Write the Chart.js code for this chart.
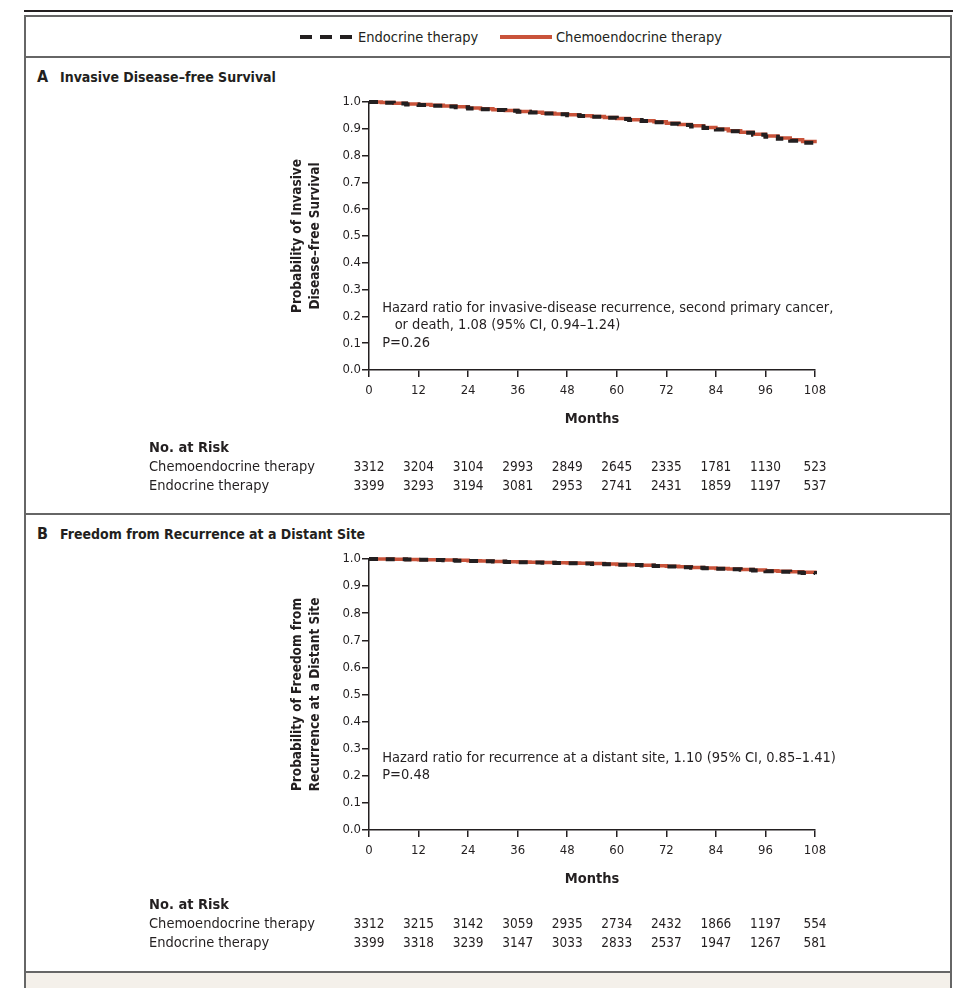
<!DOCTYPE html>
<html lang="en">
<head>
<meta charset="UTF-8">
<title>Invasive Disease-free Survival and Freedom from Distant Recurrence</title>
<style>
  body { margin: 0; background: #fff; color: #231f20;
         font-family: "Liberation Sans Narrow", "DejaVu Sans Condensed", "Liberation Sans", sans-serif; }
  #page { position: relative; width: 980px; height: 988px; overflow: hidden; }
  .abs { position: absolute; }
  .topline { left: 24px; top: 10px; width: 929px; height: 2px; background: #231f20; }
  .frame { left: 24px; top: 15px; width: 928px; height: 1000px; box-sizing: border-box; border: 2px solid #666; }
  .sep { left: 26px; width: 924px; height: 2px; background: #666; }
  .beige { left: 26px; top: 973px; width: 924px; height: 20px; background: #f4f0ea; }
  .legend { top: 26px; height: 22px; font-size: 14.5px; line-height: 22px; white-space: nowrap; }
  .swatch { position: absolute; top: 9px; height: 4px; }
  .ptitle { left: 37px; font-weight: bold; font-size: 14px; line-height: 20px; white-space: nowrap; }
  .ptitle span { display: inline-block; width: 23px; font-size: 16px; }
  canvas { position: absolute; }
</style>
</head>
<body>
<div id="page">
  <div class="abs topline"></div>
  <div class="abs frame"></div>
  <div class="abs sep" style="top:56px"></div>
  <div class="abs sep" style="top:513px"></div>
  <div class="abs sep" style="top:971px"></div>
  <div class="abs beige"></div>

  <div class="abs swatch" id="swEndo" style="left:300px;top:35px;width:52px;
       background:repeating-linear-gradient(90deg,#231f20 0 12px,transparent 12px 20px)"></div>
  <div class="abs legend" id="lgEndo" style="left:358px"></div>
  <div class="abs swatch" id="swChemo" style="left:500px;top:35px;width:52px;background:#c9533a"></div>
  <div class="abs legend" id="lgChemo" style="left:556px"></div>

  <div class="abs ptitle" style="top:67px"><span>A</span>Invasive Disease–free Survival</div>
  <canvas id="chartA" width="924" height="418" style="left:26px;top:88px"></canvas>

  <div class="abs ptitle" style="top:524px"><span>B</span>Freedom from Recurrence at a Distant Site</div>
  <canvas id="chartB" width="924" height="418" style="left:26px;top:545px"></canvas>
</div>

<script src="https://cdn.jsdelivr.net/npm/chart.js@4.4.1/dist/chart.umd.min.js"></script>
<script>
  const FONT = '"Liberation Sans Narrow", "DejaVu Sans Condensed", "Liberation Sans", sans-serif';
  const INK = '#231f20';
  const RED = '#c9533a';

  const seriesNames = ['Endocrine therapy', 'Chemoendocrine therapy'];

  const months = [0, 3, 6, 9, 12, 15, 18, 21, 24, 27, 30, 33, 36, 39, 42, 45, 48, 51, 54,
                  57, 60, 63, 66, 69, 72, 75, 78, 81, 84, 87, 90, 93, 96, 99, 102, 105, 108];

  // panel A - invasive disease-free survival
  const endoA = [1.000, 0.997, 0.994, 0.991, 0.989, 0.986, 0.983, 0.980, 0.976, 0.973, 0.970, 0.967,
                 0.964, 0.961, 0.957, 0.954, 0.951, 0.948, 0.945, 0.941, 0.937, 0.933, 0.929, 0.924,
                 0.919, 0.914, 0.909, 0.903, 0.897, 0.891, 0.885, 0.878, 0.870, 0.863, 0.855, 0.848, 0.840];
  const chemoA = [1.000, 0.998, 0.995, 0.993, 0.991, 0.988, 0.985, 0.982, 0.978, 0.975, 0.971, 0.968,
                  0.965, 0.962, 0.958, 0.955, 0.952, 0.949, 0.946, 0.942, 0.938, 0.934, 0.930, 0.926,
                  0.921, 0.916, 0.911, 0.905, 0.899, 0.893, 0.887, 0.880, 0.873, 0.866, 0.859, 0.853, 0.846];

  // panel B - freedom from recurrence at a distant site
  const endoB = [1.000, 0.999, 0.999, 0.998, 0.997, 0.996, 0.995, 0.994, 0.993, 0.992, 0.991, 0.989,
                 0.988, 0.987, 0.986, 0.985, 0.984, 0.983, 0.982, 0.981, 0.979, 0.978, 0.976, 0.974,
                 0.972, 0.970, 0.968, 0.966, 0.964, 0.962, 0.960, 0.958, 0.955, 0.953, 0.950, 0.948, 0.944];
  const chemoB = [1.000, 1.000, 0.999, 0.998, 0.997, 0.997, 0.996, 0.995, 0.994, 0.993, 0.991, 0.990,
                  0.989, 0.988, 0.987, 0.986, 0.985, 0.984, 0.983, 0.982, 0.980, 0.979, 0.977, 0.975,
                  0.973, 0.971, 0.969, 0.967, 0.965, 0.963, 0.961, 0.959, 0.957, 0.955, 0.953, 0.951, 0.948];

  // no. at risk
  const riskMonths = [0, 12, 24, 36, 48, 60, 72, 84, 96, 108];
  const riskChemoA = [3312, 3204, 3104, 2993, 2849, 2645, 2335, 1781, 1130, 523];
  const riskEndoA  = [3399, 3293, 3194, 3081, 2953, 2741, 2431, 1859, 1197, 537];
  const riskChemoB = [3312, 3215, 3142, 3059, 2935, 2734, 2432, 1866, 1197, 554];
  const riskEndoB  = [3399, 3318, 3239, 3147, 3033, 2833, 2537, 1947, 1267, 581];

  const yTitleA = ['Probability of Invasive', 'Disease–free Survival'];
  const yTitleB = ['Probability of Freedom from', 'Recurrence at a Distant Site'];
  const noteA = ['Hazard ratio for invasive-disease recurrence, second primary cancer,',
                 '   or death, 1.08 (95% CI, 0.94–1.24)', 'P=0.26'];
  const noteB = ['Hazard ratio for recurrence at a distant site, 1.10 (95% CI, 0.85–1.41)', 'P=0.48'];

  document.getElementById('lgEndo').textContent = seriesNames[0];
  document.getElementById('lgChemo').textContent = seriesNames[1];

  Chart.defaults.font.family = FONT;
  Chart.defaults.color = INK;

  // draws the hazard-ratio note and the number-at-risk table
  const extras = {
    id: 'extras',
    afterDraw(chart, args, o) {
      const ctx = chart.ctx, xs = chart.scales.x, ys = chart.scales.y;
      ctx.save();
      ctx.fillStyle = INK;
      ctx.textBaseline = 'middle';
      ctx.font = '14.5px ' + FONT;
      ctx.textAlign = 'left';
      const nx = xs.getPixelForValue(o.noteAt[0]);
      const ny = ys.getPixelForValue(o.noteAt[1]);
      o.note.forEach((line, i) => ctx.fillText(line, nx, ny + i * o.noteGap));

      ctx.font = 'bold 14.5px ' + FONT;
      ctx.fillText('No. at Risk', o.tableX, o.tableY);
      o.rows.forEach((row, r) => {
        const y = o.tableY + (r + 1) * o.rowGap;
        ctx.font = '14.5px ' + FONT;
        ctx.textAlign = 'left';
        ctx.fillText(row[0], o.tableX, y);
        ctx.font = '13.5px ' + FONT;
        ctx.textAlign = 'center';
        row[1].forEach((n, i) => ctx.fillText(String(n), xs.getPixelForValue(riskMonths[i]), y));
      });
      ctx.restore();
    }
  };

  function kmChart(id, endo, chemo, yTitle, note, noteAt, rows, bottomPad) {
    const axisLine = { display: true, color: INK, width: 1.5 };
    const gridTicks = { drawOnChartArea: false, drawTicks: true, tickLength: 7, color: INK, lineWidth: 1.5 };
    return new Chart(document.getElementById(id), {
      type: 'line',
      data: {
        datasets: [
          { label: seriesNames[0], data: months.map((m, i) => ({ x: m, y: endo[i] })),
            borderColor: INK, borderWidth: 4, borderDash: [9, 8], stepped: true, pointRadius: 0, clip: 6 },
          { label: seriesNames[1], data: months.map((m, i) => ({ x: m, y: chemo[i] })),
            borderColor: RED, borderWidth: 3.5, stepped: true, pointRadius: 0, clip: 6 }
        ]
      },
      options: {
        responsive: false,
        animation: false,
        devicePixelRatio: 1,
        layout: { padding: { left: 0, right: 135, top: 14, bottom: bottomPad } },
        plugins: {
          legend: { display: false },
          tooltip: { enabled: false },
          extras: { note: note, noteAt: noteAt, noteGap: 17.5, tableX: 123, tableY: 360, rowGap: 19, rows: rows }
        },
        scales: {
          x: {
            type: 'linear', min: 0, max: 108,
            border: axisLine, grid: gridTicks,
            ticks: { stepSize: 12, padding: 6, font: { size: 13 } },
            title: { display: true, text: 'Months', font: { size: 14.5, weight: 'bold' }, padding: { top: 4, bottom: 2 } },
            afterFit: s => { s.height = 60; }
          },
          y: {
            min: 0, max: 1,
            border: axisLine, grid: gridTicks,
            ticks: { stepSize: 0.1, padding: 1, font: { size: 13 }, callback: v => v.toFixed(1) },
            title: { display: true, text: yTitle, font: { size: 13.5, weight: 'bold', lineHeight: 1.35 },
                     padding: { top: 262, bottom: 0 } },
            afterFit: s => { s.width = 343; }
          }
        }
      },
      plugins: [extras]
    });
  }

  kmChart('chartA', endoA, chemoA, yTitleA, noteA, [3.2, 0.231],
          [[seriesNames[1], riskChemoA], [seriesNames[0], riskEndoA]], 76);
  kmChart('chartB', endoB, chemoB, yTitleB, noteB, [3.2, 0.265],
          [[seriesNames[1], riskChemoB], [seriesNames[0], riskEndoB]], 73);
</script>
</body>
</html>
